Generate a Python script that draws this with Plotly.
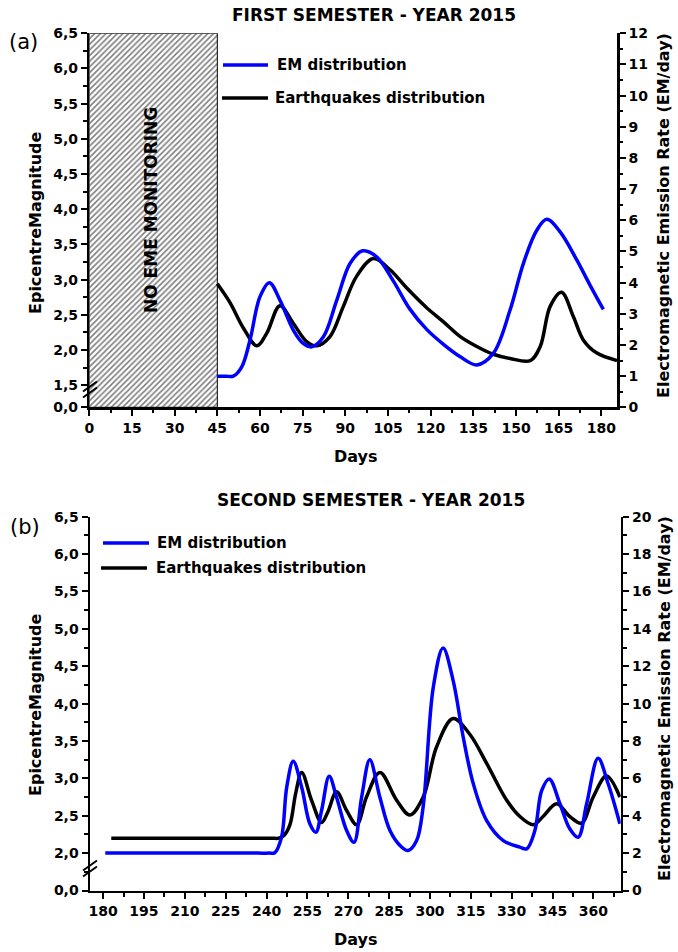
import plotly.graph_objects as go

# ---------------- data ----------------
# First semester 2015
top_em_days = [45, 48, 50.6, 53.6, 56.5, 60, 63.3, 67, 71.7, 75.2, 78.2, 82.3, 87, 91.7, 96.1, 101,
               106.9, 112.7, 118.6, 124.5, 130.4, 136.2, 142, 147.9, 152.6, 157.3, 160.8, 165.5,
               171.4, 176, 180.7]
top_em_rate = [1.0, 1.0, 1.0, 1.30, 2.16, 3.55, 4.0, 3.44, 2.48, 2.05, 1.94, 2.26, 3.44, 4.62, 5.02, 4.83,
               4.05, 3.15, 2.50, 2.02, 1.62, 1.36, 1.73, 3.12, 4.62, 5.68, 6.03, 5.63,
               4.72, 3.92, 3.14]
top_eq_days = [45, 49.5, 54.2, 58.9, 62.4, 67, 71.7, 76.4, 80, 84.6, 89.3, 94, 99.9, 105.7, 111.6,
               118.6, 124.5, 130.4, 136.2, 142, 147.9, 155, 158.5, 162, 166, 170.1, 173.7, 178.3, 185.5]
top_eq_mag = [2.94, 2.67, 2.31, 2.06, 2.24, 2.63, 2.38, 2.12, 2.06, 2.19, 2.62, 3.05, 3.30, 3.14, 2.88,
              2.60, 2.40, 2.19, 2.05, 1.94, 1.88, 1.85, 2.05, 2.62, 2.82, 2.48, 2.14, 1.96, 1.85]

# Second semester 2015
bot_em_days = [180.8, 190, 200, 210, 220, 230, 237, 241, 243, 245.5, 247.4, 249.8, 252.9, 255.9, 258.1,
               260.2, 263, 265.7, 269.4, 272.1, 274.9, 277.9, 281.6, 285.3, 289, 292, 295.1, 297.5,
               301.2, 304.8, 308.5, 312.2, 315.9, 320.8, 326.9, 333, 335.5, 338.5, 341, 343.8, 347.7,
               351.3, 354.4, 357.5, 361.7, 365.4, 369.7]
bot_em_rate = [2.0, 2.0, 2.0, 2.0, 2.0, 2.0, 2.0, 2.0, 2.02, 2.85, 5.52, 6.92, 5.52, 3.57, 3.12,
               4.28, 6.11, 4.99, 3.21, 2.58, 4.99, 6.99, 4.99, 3.21, 2.41, 2.14, 2.67, 4.5,
               10.87, 12.98, 11.23, 8.20, 5.71, 3.74, 2.67, 2.32, 2.23, 3.21, 5.35, 5.97, 4.64,
               3.30, 2.85, 4.64, 7.07, 5.71, 3.57]
bot_eq_days = [183, 192, 202, 212, 222, 232, 238, 242, 244.5, 246.5, 248.6, 250.7, 252.9, 256.5, 260.2,
               262.5, 265.7, 269.4, 273.1, 276.7, 281.6, 287.7, 292.6, 297.5, 302.4, 308.5, 314.6,
               320.8, 328.1, 333, 337.9, 341.5, 346.5, 351.3, 355.6, 359.9, 364.8, 369.7]
bot_eq_mag = [2.2, 2.2, 2.2, 2.2, 2.2, 2.2, 2.2, 2.2, 2.2, 2.24, 2.38, 2.8, 3.08, 2.71, 2.41,
              2.55, 2.82, 2.57, 2.38, 2.75, 3.08, 2.71, 2.51, 2.75, 3.42, 3.80, 3.59,
              3.20, 2.71, 2.49, 2.38, 2.49, 2.66, 2.49, 2.40, 2.75, 3.03, 2.75]

no_eme_end = 45

# tick labels
top_x_ticks = list(range(0, 181, 15))
bot_x_ticks = list(range(180, 361, 15))
top_mag_break = 1.186
top_mag_ticks = [top_mag_break, 1.5, 2.0, 2.5, 3.0, 3.5, 4.0, 4.5, 5.0, 5.5, 6.0, 6.5]
top_mag_text = ["0,0", "1,5", "2,0", "2,5", "3,0", "3,5", "4,0", "4,5", "5,0", "5,5", "6,0", "6,5"]
bot_mag_ticks = [1.5, 2.0, 2.5, 3.0, 3.5, 4.0, 4.5, 5.0, 5.5, 6.0, 6.5]
bot_mag_text = ["0,0", "2,0", "2,5", "3,0", "3,5", "4,0", "4,5", "5,0", "5,5", "6,0", "6,5"]
top_rate_ticks = list(range(0, 13))
bot_rate_ticks = list(range(0, 21, 2))

# ---------------- layout helpers ----------------
W, H = 678, 952
def fx(p):
    return p / W
def fy(p):
    return 1 - p / H

FONT = "DejaVu Sans"
BLUE = "#0000FF"

fig = go.Figure()

# hatched "no monitoring" region
fig.add_trace(go.Scatter(
    x=[0, no_eme_end, no_eme_end, 0, 0],
    y=[top_mag_break, top_mag_break, 6.5, 6.5, top_mag_break],
    mode="lines", fill="toself", fillcolor="white",
    fillpattern=dict(shape="/", size=4, solidity=0.4, fgcolor="black", bgcolor="white"),
    line=dict(color="black", width=1), showlegend=False, hoverinfo="skip",
    xaxis="x", yaxis="y"))

fig.add_trace(go.Scatter(x=top_eq_days, y=top_eq_mag, mode="lines", line_shape="spline",
                         line=dict(color="black", width=3.5), xaxis="x", yaxis="y",
                         name="Earthquakes distribution", showlegend=False))
fig.add_trace(go.Scatter(x=top_em_days, y=top_em_rate, mode="lines", line_shape="spline",
                         line=dict(color=BLUE, width=3.5), xaxis="x", yaxis="y2",
                         name="EM distribution", showlegend=False))
fig.add_trace(go.Scatter(x=bot_eq_days, y=bot_eq_mag, mode="lines", line_shape="spline",
                         line=dict(color="black", width=3.5), xaxis="x2", yaxis="y3",
                         name="Earthquakes distribution", showlegend=False))
fig.add_trace(go.Scatter(x=bot_em_days, y=bot_em_rate, mode="lines", line_shape="spline",
                         line=dict(color=BLUE, width=3.5), xaxis="x2", yaxis="y4",
                         name="EM distribution", showlegend=False))

tickfont = dict(family=FONT, size=14, color="black", weight="bold")

def axis_common(**kw):
    d = dict(showline=True, linewidth=2.5, linecolor="black", ticks="outside", ticklen=6,
             tickwidth=2, tickcolor="black", showgrid=False, zeroline=False, mirror=False,
             tickfont=tickfont, fixedrange=True, automargin=False)
    d.update(kw)
    return d

def minor(vals):
    return dict(tickvals=vals, ticklen=3.5, tickwidth=2, ticks="outside", tickcolor="black")

top_xdom = [fx(89.3), fx(617.3)]
bot_xdom = [fx(90.0), fx(620.7)]
top_ydom = [fy(407.3), fy(33.3)]
bot_ydom = [fy(890.5), fy(516.7)]

fig.update_layout(
    width=W, height=H, margin=dict(l=0, r=0, t=0, b=0, autoexpand=False),
    paper_bgcolor="white", plot_bgcolor="white", showlegend=False,
    xaxis=axis_common(domain=top_xdom, range=[0, 185.6], anchor="y",
                      tickvals=top_x_ticks, minor=minor([t + 7.5 for t in top_x_ticks])),
    yaxis=axis_common(domain=top_ydom, range=[top_mag_break, 6.5], anchor="x",
                      tickvals=top_mag_ticks, ticktext=top_mag_text,
                      minor=minor([1.75 + 0.5 * i for i in range(10)])),
    yaxis2=axis_common(domain=top_ydom, range=[0, 12], anchor="x", overlaying="y", side="right",
                       tickvals=top_rate_ticks, minor=minor([0.5 + i for i in range(12)])),
    xaxis2=axis_common(domain=bot_xdom, range=[175.2, 370], anchor="y3",
                       tickvals=bot_x_ticks, minor=minor([t + 7.5 for t in bot_x_ticks])),
    yaxis3=axis_common(domain=bot_ydom, range=[1.5, 6.5], anchor="x2",
                       tickvals=bot_mag_ticks, ticktext=bot_mag_text,
                       minor=minor([1.75 + 0.5 * i for i in range(10)])),
    yaxis4=axis_common(domain=bot_ydom, range=[0, 20], anchor="x2", overlaying="y3", side="right",
                       tickvals=bot_rate_ticks, minor=minor([1 + 2 * i for i in range(10)])),
)

shapes = []
# axis break marks
for yc in [389.5, 868.5]:
    for off in (-3, 3):
        shapes.append(dict(type="line", xref="paper", yref="paper",
                           x0=fx(83), y0=fy(yc + off + 5), x1=fx(97), y1=fy(yc + off - 5),
                           line=dict(color="black", width=2)))
# legend samples
for (x0, x1, yy, col) in [(223, 268, 65, BLUE), (222, 268, 98, "black"),
                          (103, 149, 543, BLUE), (101, 147, 568, "black")]:
    shapes.append(dict(type="line", xref="paper", yref="paper",
                       x0=fx(x0), x1=fx(x1), y0=fy(yy), y1=fy(yy),
                       line=dict(color=col, width=3.5)))
fig.update_layout(shapes=shapes)

def ann(text, x, y, size, xanchor="center", angle=0, bold=True, family=FONT):
    return dict(text=text, x=fx(x), y=fy(y), xref="paper", yref="paper", showarrow=False,
                xanchor=xanchor, yanchor="middle", textangle=angle,
                font=dict(family=family, size=size, color="black",
                          weight="bold" if bold else "normal"))

annotations = [
    ann("FIRST SEMESTER - YEAR 2015", 374, 15, 17),
    ann("SECOND SEMESTER - YEAR 2015", 371, 500, 17),
    ann("(a)", 23, 42, 21, bold=False),
    ann("(b)", 24.5, 527, 21, bold=False),
    ann("Days", 356, 456, 16),
    ann("Days", 356, 939, 16),
    ann("EpicentreMagnitude", 35, 223, 16, angle=-90),
    ann("EpicentreMagnitude", 35, 705, 16, angle=-90),
    ann("Electromagnetic Emission Rate (EM/day)", 664, 216, 16, angle=-90),
    ann("Electromagnetic Emission Rate (EM/day)", 664, 699, 16, angle=-90),
    ann("NO EME MONITORING", 151, 210, 17, angle=-90),
    ann("EM distribution", 275, 65, 15, xanchor="left"),
    ann("Earthquakes distribution", 273, 98, 15, xanchor="left"),
    ann("EM distribution", 155, 543, 15, xanchor="left"),
    ann("Earthquakes distribution", 154, 568, 15, xanchor="left"),
]
fig.update_layout(annotations=annotations)

fig.write_html("out.html", config={"displayModeBar": False, "staticPlot": True},
               post_script="document.body.style.margin='0px';document.body.style.overflow='hidden';")
